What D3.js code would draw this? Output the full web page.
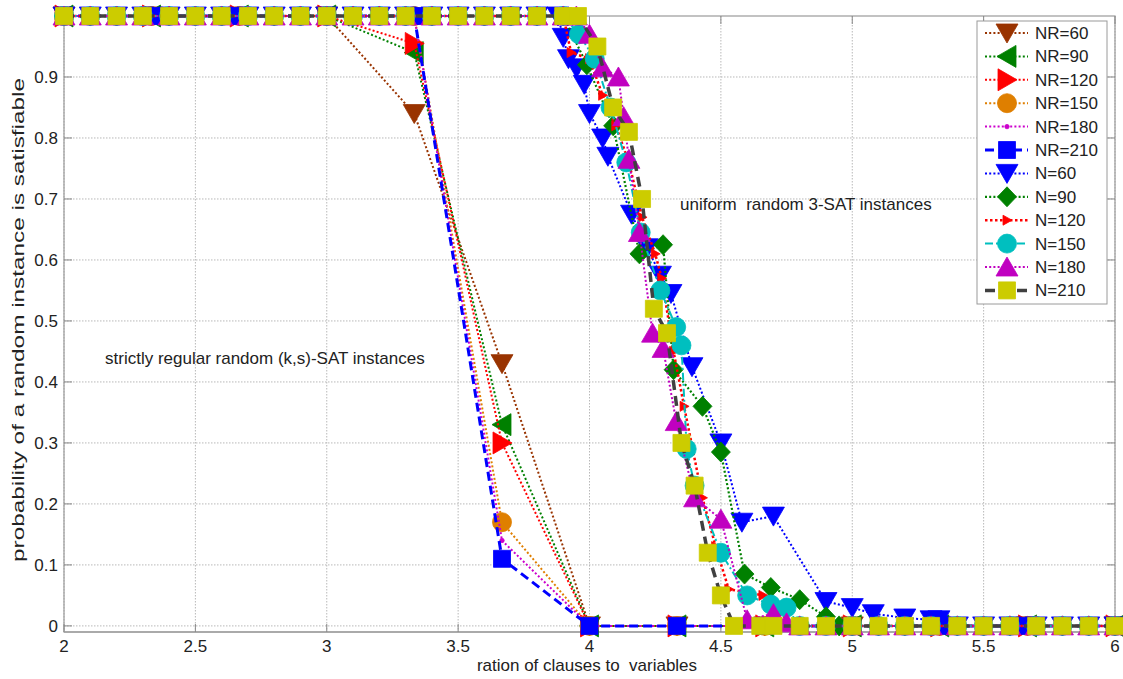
<!DOCTYPE html>
<html><head><meta charset="utf-8">
<script src="https://cdn.jsdelivr.net/npm/d3@7"></script>
<style>
body{margin:0;background:#fff;}
text{font-family:Arial,"Liberation Sans",sans-serif;fill:#222;}
</style>
</head><body>
<svg id="c" width="1123" height="679"></svg>
<script>
// ---------- data ----------
const xTicks = [2, 2.5, 3, 3.5, 4, 4.5, 5, 5.5, 6];
const yTicks = [0, 0.1, 0.2, 0.3, 0.4, 0.5, 0.6, 0.7, 0.8, 0.9];
const seriesNames = ["NR=60","NR=90","NR=120","NR=150","NR=180","NR=210","N=60","N=90","N=120","N=150","N=180","N=210"];

// strictly regular (k,s)-SAT : ratio s/3
const nrX   = [2, 2.333, 2.667, 3, 3.333, 3.667, 4, 4.333, 4.667, 5, 5.333, 5.667, 6];
const nr60  = [1, 1, 1, 1, 0.84, 0.43, 0, 0, 0, 0, 0, 0, 0];
const nr90  = [1, 1, 1, 1, 0.94, 0.33, 0, 0, 0, 0, 0, 0, 0];
const nr120 = [1, 1, 1, 1, 0.955, 0.30, 0, 0, 0, 0, 0, 0, 0];
const nr150 = [1, 1, 1, 1, 1, 0.17, 0, 0, 0, 0, 0, 0, 0];
const nr180 = [1, 1, 1, 1, 1, 0.14, 0, 0, 0, 0, 0, 0, 0];
const nr210 = [1, 1, 1, 1, 1, 0.11, 0, 0, 0, 0, 0, 0, 0];

// uniform random 3-SAT
const topX = [2.0, 2.1, 2.2, 2.3, 2.4, 2.5, 2.6, 2.7, 2.8, 2.9, 3.0, 3.1, 3.2, 3.3, 3.4, 3.5, 3.6, 3.7, 3.8];
const topY = [1, 1, 1, 1, 1, 1, 1, 1, 1, 1, 1, 1, 1, 1, 1, 1, 1, 1, 1];
const tailX = [4.8, 4.9, 5.0, 5.1, 5.2, 5.3, 5.4, 5.5, 5.6, 5.7, 5.8, 5.9, 6.0];
const tailY = [0, 0, 0, 0, 0, 0, 0, 0, 0, 0, 0, 0, 0];

const n60X = [3.88, 3.9, 3.92, 3.95, 3.98, 4.0, 4.05, 4.07, 4.16, 4.22, 4.27, 4.31, 4.39, 4.5, 4.58, 4.7, 4.9, 5.0, 5.08, 5.2, 5.3, 5.33, 5.4, 5.5, 5.6, 5.7, 5.8, 5.9, 6.0];
const n60Y = [1, 0.965, 0.93, 0.915, 0.888, 0.84, 0.80, 0.77, 0.675, 0.62, 0.575, 0.545, 0.425, 0.30, 0.17, 0.18, 0.04, 0.03, 0.02, 0.013, 0.01, 0.01, 0, 0, 0, 0, 0, 0, 0];

const n90X = [3.9, 3.99, 4.09, 4.19, 4.28, 4.32, 4.43, 4.5, 4.59, 4.69, 4.8, 4.9, 4.95, 5.0, 5.1, 5.2, 5.3, 5.4, 5.5, 5.6, 5.7, 5.8, 5.9, 6.0];
const n90Y = [1, 0.92, 0.82, 0.61, 0.625, 0.42, 0.36, 0.285, 0.085, 0.063, 0.043, 0.015, 0, 0, 0, 0, 0, 0, 0, 0, 0, 0, 0, 0];

const n120X = [3.9, 3.93, 4.0, 4.05, 4.1, 4.15, 4.2, 4.25, 4.275, 4.32, 4.36, 4.43, 4.48, 4.53, 4.6, 4.66, 4.72];
const n120Y = [1, 0.94, 0.93, 0.87, 0.82, 0.76, 0.67, 0.61, 0.57, 0.45, 0.36, 0.21, 0.13, 0.06, 0.055, 0.05, 0.02];

const n150X = [3.9, 3.96, 4.02, 4.08, 4.14, 4.195, 4.27, 4.33, 4.35, 4.37, 4.4, 4.5, 4.6, 4.69, 4.75];
const n150Y = [1, 0.97, 0.93, 0.85, 0.76, 0.645, 0.55, 0.49, 0.46, 0.29, 0.23, 0.12, 0.05, 0.035, 0.03];

const n180X = [3.9, 3.95, 4.0, 4.05, 4.11, 4.13, 4.15, 4.19, 4.24, 4.28, 4.33, 4.4, 4.5, 4.6, 4.7, 4.75];
const n180Y = [1, 1, 0.97, 0.915, 0.90, 0.835, 0.765, 0.645, 0.48, 0.455, 0.335, 0.21, 0.175, 0.01, 0.02, 0.005];

const n210X = [3.9, 3.956, 4.03, 4.09, 4.15, 4.2, 4.245, 4.295, 4.35, 4.4, 4.45, 4.5, 4.55, 4.65, 4.7];
const n210Y = [1, 1, 0.95, 0.85, 0.81, 0.70, 0.52, 0.48, 0.30, 0.23, 0.12, 0.05, 0, 0, 0];

const labelX = "ration of clauses to  variables";
const labelY = "probability of a random instance is satisfiable";
const noteRegular = "strictly regular random (k,s)-SAT instances";
const noteUniform = "uniform  random 3-SAT instances";

// ---------- assemble ----------
const seriesX = [nrX, nrX, nrX, nrX, nrX, nrX,
  topX.concat(n60X), topX.concat(n90X), topX.concat(n120X, tailX),
  topX.concat(n150X, tailX), topX.concat(n180X, tailX), topX.concat(n210X, tailX)];
const seriesY = [nr60, nr90, nr120, nr150, nr180, nr210,
  topY.concat(n60Y), topY.concat(n90Y), topY.concat(n120Y, tailY),
  topY.concat(n150Y, tailY), topY.concat(n180Y, tailY), topY.concat(n210Y, tailY)];

const styles = [
  {c:"#993300", dash:"2,2.2", w:2, m:"tdown", mc:"#993300"},
  {c:"#008000", dash:"2,2.2", w:2, m:"tleft", mc:"#008000"},
  {c:"#ff0000", dash:"2,2.2", w:2, m:"tright", mc:"#ff0000"},
  {c:"#df7f00", dash:"2,2.2", w:2, m:"circle", mc:"#df7f00"},
  {c:"#cc00cc", dash:"2,2.2", w:2, m:"dot", mc:"#cc00cc"},
  {c:"#0000ff", dash:"9,5", w:3, m:"square", mc:"#0000ff"},
  {c:"#0000ff", dash:"2,2.2", w:2, m:"tdown", mc:"#0000ff"},
  {c:"#008000", dash:"2,2.2", w:2.2, m:"diamond", mc:"#008000"},
  {c:"#ff0000", dash:"2.5,2.5", w:2.5, m:"smallright", mc:"#ff0000"},
  {c:"#00bfbf", dash:"8,3,2,3", w:2, m:"circle", mc:"#00bfbf"},
  {c:"#c000c0", dash:"2,2.2", w:2, m:"tup", mc:"#c000c0"},
  {c:"#404040", dash:"10,6", w:3.5, m:"square", mc:"#cccc00"}
];

const markerPath = {
  tdown: "M-11,-9L11,-9L0,10Z",
  tup: "M-11,9L11,9L0,-10Z",
  tleft: "M9,-11L9,11L-10,0Z",
  tright: "M-9,-11L-9,11L10,0Z",
  smallright: "M-4,-5L-4,5L5,0Z",
  square: "M-8.5,-8.5H8.5V8.5H-8.5Z",
  diamond: "M0,-10L9.5,0L0,10L-9.5,0Z",
  circle: "M9.5,0A9.5,9.5 0 1,1 -9.5,0A9.5,9.5 0 1,1 9.5,0Z",
  dot: "M2.2,0A2.2,2.2 0 1,1 -2.2,0A2.2,2.2 0 1,1 2.2,0Z"
};

// ---------- draw ----------
const svg = d3.select("#c");
const L = 64, R = 1115, T = 16, B = 632;
const x = d3.scaleLinear().domain([2, 6]).range([L, R]);
const y = d3.scaleLinear().domain([-0.01, 1]).range([B, T]);

// grid
const grid = svg.append("g");
grid.selectAll(".gx").data(xTicks).join("line")
  .attr("x1", d => x(d)).attr("x2", d => x(d)).attr("y1", T).attr("y2", B)
  .attr("stroke", "#b8b8b8").attr("stroke-width", 1).attr("stroke-dasharray", "1.5,1.5");
grid.selectAll(".gy").data(yTicks).join("line")
  .attr("x1", L).attr("x2", R).attr("y1", d => y(d)).attr("y2", d => y(d))
  .attr("stroke", "#b8b8b8").attr("stroke-width", 1).attr("stroke-dasharray", "1.5,1.5");

// box
svg.append("rect").attr("x", L).attr("y", T).attr("width", R - L).attr("height", B - T)
  .attr("fill", "none").attr("stroke", "#9a9a9a").attr("stroke-width", 1.2);
svg.append("line").attr("x1", L).attr("x2", R).attr("y1", B).attr("y2", B)
  .attr("stroke", "#aaa").attr("stroke-width", 2);

// ticks (inward, both sides)
const tk = svg.append("g").attr("stroke", "#888").attr("stroke-width", 1);
xTicks.forEach(t => {
  tk.append("line").attr("x1", x(t)).attr("x2", x(t)).attr("y1", B).attr("y2", B - 8);
  tk.append("line").attr("x1", x(t)).attr("x2", x(t)).attr("y1", T).attr("y2", T + 8);
});
yTicks.forEach(t => {
  tk.append("line").attr("x1", L).attr("x2", L + 8).attr("y1", y(t)).attr("y2", y(t));
  tk.append("line").attr("x1", R).attr("x2", R - 8).attr("y1", y(t)).attr("y2", y(t));
});

// tick labels
svg.selectAll(".xl").data(xTicks).join("text")
  .attr("x", d => x(d)).attr("y", 652).attr("text-anchor", "middle")
  .attr("font-size", 17).text(d => d3.format("~g")(d));
svg.selectAll(".yl").data(yTicks).join("text")
  .attr("x", 58).attr("y", d => y(d) + 6).attr("text-anchor", "end")
  .attr("font-size", 17).text(d => d3.format("~g")(d));

// axis labels
svg.append("text").attr("x", 587).attr("y", 671).attr("text-anchor", "middle")
  .attr("font-size", 17).style("white-space", "pre").text(labelX);
svg.append("text").attr("transform", "translate(24,320) rotate(-90)")
  .attr("text-anchor", "middle").attr("font-size", 17)
  .attr("textLength", 484).attr("lengthAdjust", "spacingAndGlyphs").text(labelY);

// annotations
svg.append("text").attr("x", 105).attr("y", 364).attr("font-size", 17).text(noteRegular);
svg.append("text").attr("x", 680).attr("y", 210).attr("font-size", 17)
  .style("white-space", "pre").text(noteUniform);

// series
const line = d3.line().x(d => x(d[0])).y(d => y(d[1]));
seriesNames.forEach((name, i) => {
  const s = styles[i];
  const pts = seriesX[i].map((v, j) => [v, seriesY[i][j]]);
  const g = svg.append("g");
  g.append("path").attr("d", line(pts)).attr("fill", "none")
    .attr("stroke", s.c).attr("stroke-width", s.w).attr("stroke-dasharray", s.dash);
  g.selectAll("path.mk").data(pts).join("path").attr("class", "mk")
    .attr("d", markerPath[s.m])
    .attr("transform", d => `translate(${x(d[0])},${y(d[1])})`)
    .attr("fill", s.mc).attr("stroke", s.mc).attr("stroke-width", 0.8);
});

// legend
const lg = svg.append("g");
const lx = 977, ly = 21, lw = 130, lh = 283;
lg.append("rect").attr("x", lx).attr("y", ly).attr("width", lw).attr("height", lh)
  .attr("fill", "#fff").attr("stroke", "#9a9a9a").attr("stroke-width", 1);
seriesNames.forEach((name, i) => {
  const s = styles[i];
  const cy = 33 + i * 23.4;
  lg.append("line").attr("x1", 985).attr("x2", 1028).attr("y1", cy).attr("y2", cy)
    .attr("stroke", s.c).attr("stroke-width", s.w).attr("stroke-dasharray", s.dash);
  lg.append("path").attr("d", markerPath[s.m]).attr("transform", `translate(1007,${cy})`)
    .attr("fill", s.mc).attr("stroke", s.mc).attr("stroke-width", 0.8);
  lg.append("text").attr("x", 1035).attr("y", cy + 6).attr("font-size", 17).text(name);
});
</script>
</body></html>
